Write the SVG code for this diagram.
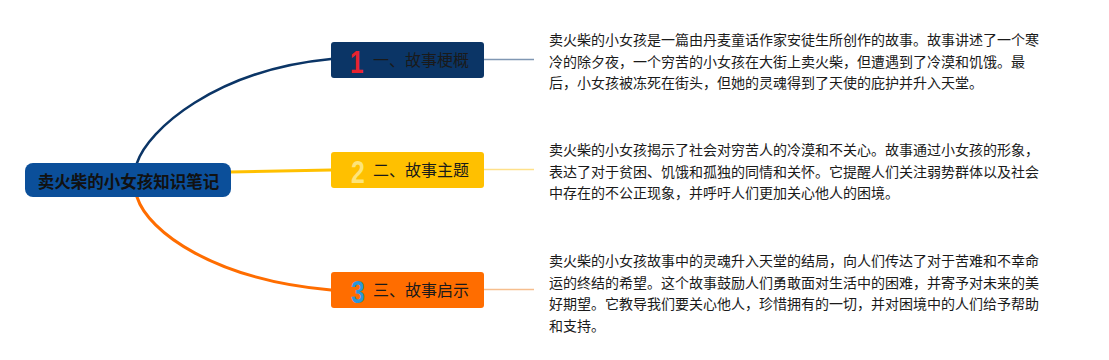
<svg xmlns="http://www.w3.org/2000/svg" width="1109" height="360" viewBox="0 0 1109 360">
<style>
.cjk{font-family:"Noto Sans CJK SC","Noto Sans",sans-serif;}
.desc{font-size:14px;fill:#1a1a1a;}
.lbl{font-size:16px;fill:#1a1a1a;}
.num{font-family:"Liberation Sans",Arial,sans-serif;font-weight:bold;font-size:31px;}
.root{font-size:16.5px;font-weight:bold;fill:#111;}
.conn{fill:none;stroke-linecap:round;}
</style>
<rect width="1109" height="360" fill="#ffffff"/>
<g id="connectors">
<path class="conn" d="M137,163 C148,130 215,70 331,59" stroke="#0b3566" stroke-width="2.5"/>
<path class="conn" d="M230,172 L331,170" stroke="#ffc000" stroke-width="3"/>
<path class="conn" d="M137,197 C148,232 215,280 331,290" stroke="#ff6d00" stroke-width="3"/>
<line x1="484" y1="59.5" x2="534" y2="59.5" stroke="#8097b3" stroke-width="1.5"/>
<line x1="484" y1="169.5" x2="534" y2="169.5" stroke="#ffe18a" stroke-width="1.5"/>
<line x1="484" y1="289.5" x2="534" y2="289.5" stroke="#f6be8e" stroke-width="1.5"/>
</g>
<g id="root">
<rect x="25" y="163" width="206" height="34" rx="8" fill="#0b4f9a"/>
<text class="cjk root" x="128.5" y="187.5" text-anchor="middle">卖火柴的小女孩知识笔记</text>
</g>
<g id="branch1">
<rect x="331" y="42" width="153" height="36" rx="3" fill="#0b3566"/>
<text class="num" transform="translate(350,73) scale(0.78,1)" fill="#e8232f">1</text>
<text class="cjk lbl" x="373" y="66">一、故事梗概</text>
</g>
<g id="branch2">
<rect x="331" y="152" width="153" height="36" rx="3" fill="#ffc000"/>
<text class="num" transform="translate(351,183) scale(0.8,1)" fill="#fde47a">2</text>
<text class="cjk lbl" x="373" y="176">二、故事主题</text>
</g>
<g id="branch3">
<rect x="331" y="272" width="153" height="36" rx="3" fill="#ff6d00"/>
<text class="num" transform="translate(351,303) scale(0.8,1)" fill="#2d96d8">3</text>
<text class="cjk lbl" x="373" y="296">三、故事启示</text>
</g>
<g id="desc1">
<text class="cjk desc" x="549" y="45">卖火柴的小女孩是一篇由丹麦童话作家安徒生所创作的故事。故事讲述了一个寒</text>
<text class="cjk desc" x="549" y="66.5">冷的除夕夜，一个穷苦的小女孩在大街上卖火柴，但遭遇到了冷漠和饥饿。最</text>
<text class="cjk desc" x="549" y="88">后，小女孩被冻死在街头，但她的灵魂得到了天使的庇护并升入天堂。</text>
</g>
<g id="desc2">
<text class="cjk desc" x="549" y="155">卖火柴的小女孩揭示了社会对穷苦人的冷漠和不关心。故事通过小女孩的形象，</text>
<text class="cjk desc" x="549" y="176.5">表达了对于贫困、饥饿和孤独的同情和关怀。它提醒人们关注弱势群体以及社会</text>
<text class="cjk desc" x="549" y="198">中存在的不公正现象，并呼吁人们更加关心他人的困境。</text>
</g>
<g id="desc3">
<text class="cjk desc" x="549" y="266">卖火柴的小女孩故事中的灵魂升入天堂的结局，向人们传达了对于苦难和不幸命</text>
<text class="cjk desc" x="549" y="287.5">运的终结的希望。这个故事鼓励人们勇敢面对生活中的困难，并寄予对未来的美</text>
<text class="cjk desc" x="549" y="309">好期望。它教导我们要关心他人，珍惜拥有的一切，并对困境中的人们给予帮助</text>
<text class="cjk desc" x="549" y="330.5">和支持。</text>
</g>
</svg>
